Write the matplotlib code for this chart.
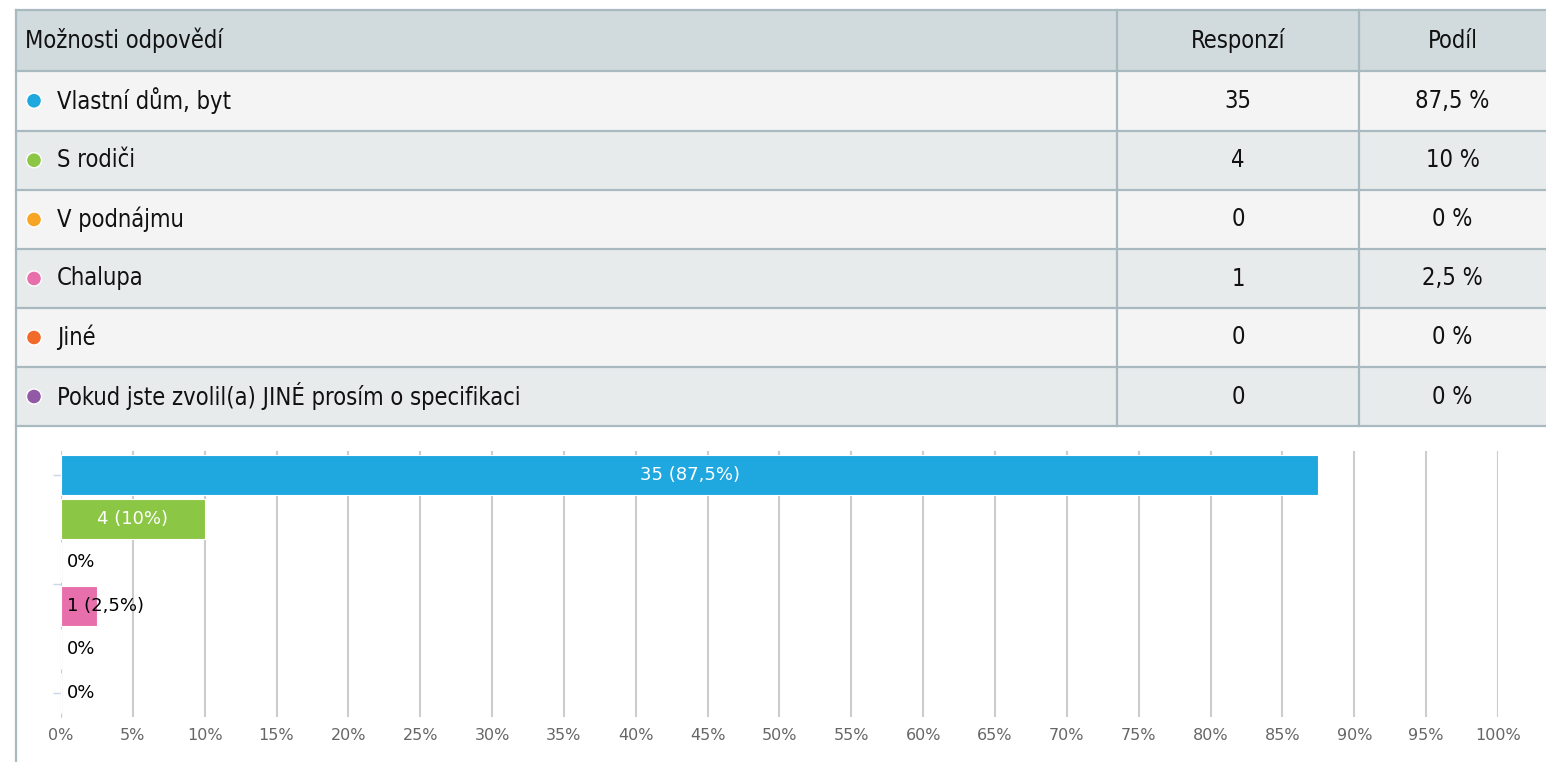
import matplotlib
matplotlib.use("Agg")
import matplotlib.pyplot as plt
from matplotlib.patches import Rectangle, Circle

# data
categories = ["Vlastní dům, byt", "S rodiči", "V podnájmu", "Chalupa", "Jiné",
              "Pokud jste zvolil(a) JINÉ prosím o specifikaci"]
responses = [35, 4, 0, 1, 0, 0]
shares = [87.5, 10, 0, 2.5, 0, 0]
share_labels = ["87,5 %", "10 %", "0 %", "2,5 %", "0 %", "0 %"]
bar_labels = ["35 (87,5%)", "4 (10%)", "0%", "1 (2,5%)", "0%", "0%"]
colors = ["#1fa8e0", "#8bc645", "#f8a526", "#e76fab", "#f26a2a", "#9159a6"]
header = ["Možnosti odpovědí", "Responzí", "Podíl"]
x_ticks = list(range(0, 101, 5))

W, H = 1546, 762
fig = plt.figure(figsize=(W / 100, H / 100), dpi=100)

# table drawn in pixel coords
tb = fig.add_axes([0, 0, 1, 1])
tb.set_xlim(0, W)
tb.set_ylim(H, 0)
tb.axis("off")

line_c = "#a9b9c0"
row_edges = [10, 71, 130.5, 190, 249, 308, 367, 426]
col1, col2 = 1117, 1359
bgs = ["#d1dadd"] + ["#f4f4f4", "#e8ebec"] * 3
for i in range(7):
    y0, y1 = row_edges[i], row_edges[i + 1]
    tb.add_patch(Rectangle((16, y0), W - 16, y1 - y0, facecolor=bgs[i], edgecolor="none"))
for y in row_edges:
    tb.plot([16, W], [y, y], color=line_c, lw=1.6)
for x in (col1, col2):
    tb.plot([x, x], [10, 426], color=line_c, lw=1.6)
tb.plot([16, 16], [10, H], color=line_c, lw=1.6)

tk = dict(fontsize=17, family="DejaVu Sans", fontstretch="condensed", va="center", color="#111111")
ymid = (row_edges[0] + row_edges[1]) / 2
tb.text(25, ymid, header[0], ha="left", **tk)
tb.text((col1 + col2) / 2, ymid, header[1], ha="center", **tk)
tb.text((col2 + W) / 2, ymid, header[2], ha="center", **tk)
for i, cat in enumerate(categories):
    ym = (row_edges[i + 1] + row_edges[i + 2]) / 2
    tb.add_patch(Circle((34, ym), 7.5, facecolor=colors[i], edgecolor="white", lw=1))
    tb.text(57, ym, cat, ha="left", **tk)
    tb.text((col1 + col2) / 2, ym, str(responses[i]), ha="center", **tk)
    tb.text((col2 + W) / 2, ym, share_labels[i], ha="center", **tk)

# bar chart
ax = fig.add_axes([61 / W, (H - 717) / H, (1498 - 61) / W, (717 - 451) / H])
ypos = list(range(len(categories)))
ax.barh(ypos, shares, height=0.92, color=colors, edgecolor="white", lw=0.8, zorder=3)
ax.set_xlim(0, 100)
ax.set_ylim(5.55, -0.55)
ax.set_xticks(x_ticks)
ax.set_xticklabels([f"{t}%" for t in x_ticks], color="#666666", fontsize=11.5)
ax.tick_params(axis="x", length=0, pad=8)
ax.set_yticks([0, 2.5, 5])
ax.set_yticklabels([])
ax.tick_params(axis="y", length=6, color="#c9d7e8", width=1)
ax.grid(axis="x", color="#cccccc", lw=1.5, zorder=0)
for s in ("top", "right", "bottom"):
    ax.spines[s].set_visible(False)
ax.spines["left"].set_color("#c9d7e8")
ax.spines["left"].set_zorder(1)
for i, (v, lab) in enumerate(zip(shares, bar_labels)):
    if v >= 8:
        ax.text(v / 2, i, lab, color="white", fontsize=13, ha="center", va="center", zorder=4)
    else:
        ax.annotate(lab, (0, i), xytext=(4, 0), textcoords="offset points", color="black",
                    fontsize=13, ha="left", va="center", zorder=4)

fig.savefig("out.png", dpi=100)
